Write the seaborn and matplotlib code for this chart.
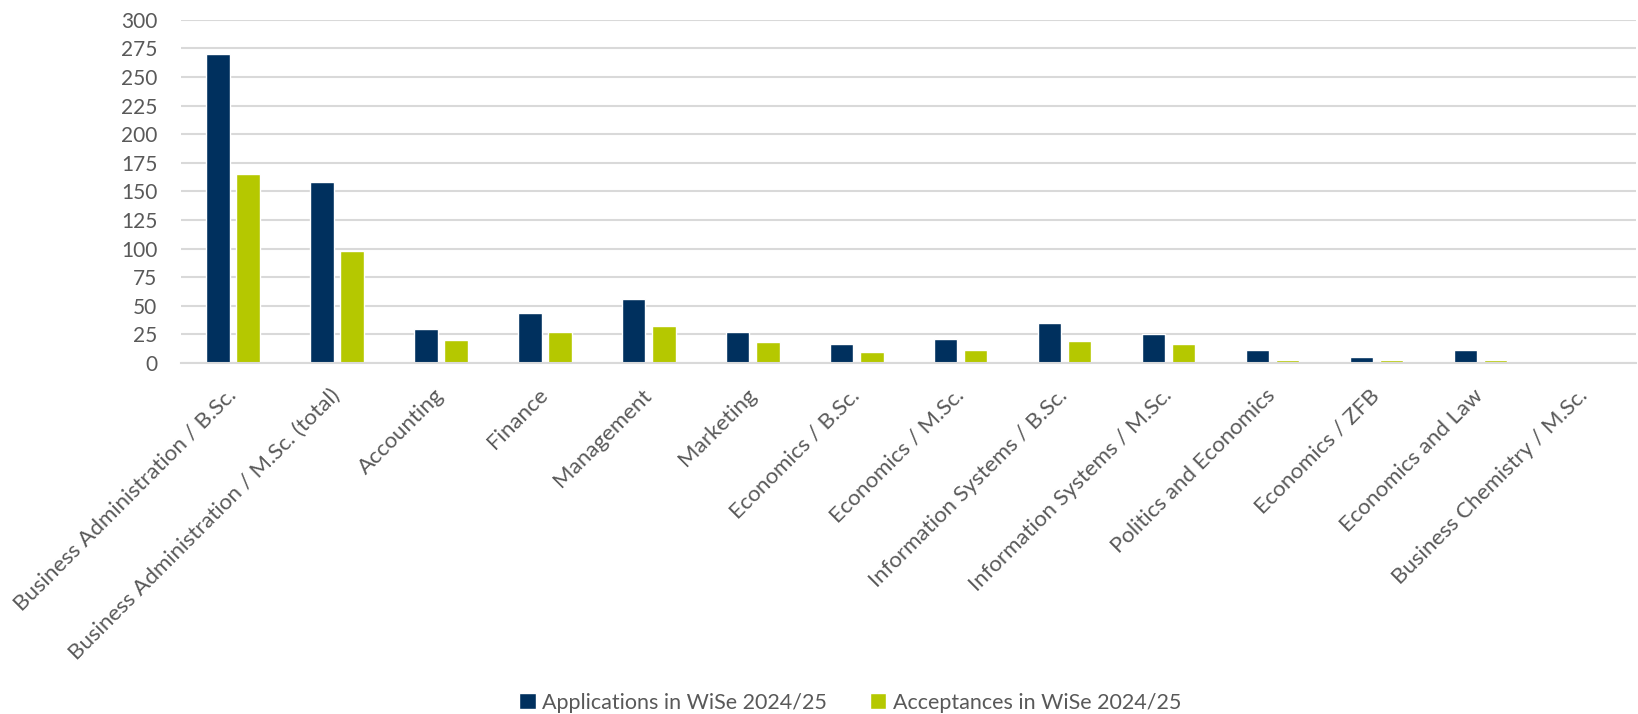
import matplotlib
matplotlib.use("Agg")
import matplotlib.pyplot as plt
import seaborn as sns
import pandas as pd

programs = [
    "Business Administration / B.Sc.",
    "Business Administration / M.Sc. (total)",
    "Accounting",
    "Finance",
    "Management",
    "Marketing",
    "Economics / B.Sc.",
    "Economics / M.Sc.",
    "Information Systems / B.Sc.",
    "Information Systems / M.Sc.",
    "Politics and Economics",
    "Economics / ZFB",
    "Economics and Law",
    "Business Chemistry / M.Sc.",
]
applications = [270, 158, 30, 44, 56, 27, 17, 21, 35, 25, 11, 5, 11, 1]
acceptances = [165, 98, 20, 27, 32, 18, 10, 11, 19, 17, 3, 3, 3, 0]
series_names = ["Applications in WiSe 2024/25", "Acceptances in WiSe 2024/25"]
y_ticks = list(range(0, 301, 25))

NAVY = "#00305E"
GREEN = "#B5C800"
TEXT = "#595959"
GRID = "#D9D9D9"

df = pd.DataFrame({
    "program": programs * 2,
    "value": applications + acceptances,
    "series": [series_names[0]] * len(programs) + [series_names[1]] * len(programs),
})

sns.set_theme(style="white")
plt.rcParams["font.family"] = ["Lato", "DejaVu Sans"]

fig = plt.figure(figsize=(16.38, 7.14), dpi=100)
ax = fig.add_axes([0.1105, 0.4916, 0.8885, 0.4808])

sns.barplot(data=df, x="program", y="value", hue="series",
            palette=[NAVY, GREEN], width=0.58, gap=0.22,
            saturation=1, ax=ax, legend=True)

ax.set_ylim(0, 300)
ax.set_xlim(-0.5, len(programs) - 0.5)
ax.set_yticks(y_ticks)
ax.set_yticklabels([str(t) for t in y_ticks])
ax.yaxis.grid(True, color=GRID, linewidth=1.5)
ax.set_axisbelow(True)
for s in ["top", "right", "left"]:
    ax.spines[s].set_visible(False)
ax.spines["bottom"].set_color(GRID)
ax.spines["bottom"].set_linewidth(1.5)
ax.set_xlabel("")
ax.set_ylabel("")
ax.tick_params(axis="y", length=0, pad=17, labelsize=15, labelcolor=TEXT)
ax.tick_params(axis="x", length=0, pad=21, labelsize=16, labelcolor=TEXT)
for lab in ax.get_xticklabels():
    lab.set_rotation(45)
    lab.set_ha("right")
    lab.set_va("center")
    lab.set_rotation_mode("anchor")

handles, labels = ax.get_legend_handles_labels()
ax.get_legend().remove()
fig.legend(handles, labels, loc="center", bbox_to_anchor=(0.519, 0.016),
           ncol=2, frameon=False, fontsize=15.5, labelcolor=TEXT,
           handlelength=0.75, handleheight=0.75, handletextpad=0.3,
           columnspacing=2.0)

fig.savefig("out.png", dpi=100)
